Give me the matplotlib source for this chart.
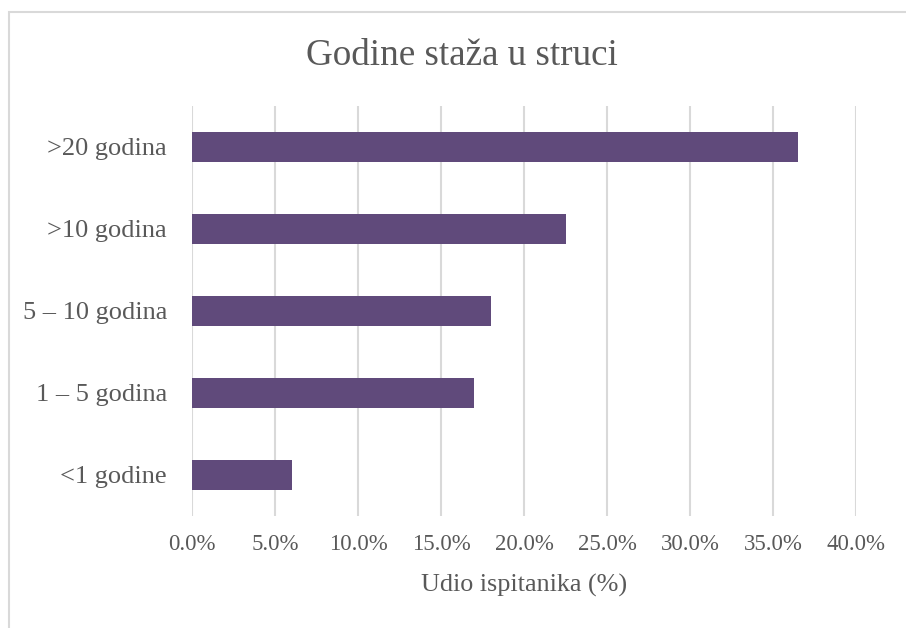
import matplotlib.pyplot as plt
import matplotlib.patches as mpatches
from matplotlib.ticker import FuncFormatter

# data (top to bottom as shown)
categories = [">20 godina", ">10 godina", "5 – 10 godina", "1 – 5 godina", "<1 godine"]
shares = [36.5, 22.5, 18.0, 17.0, 6.0]
xticks = [0, 5, 10, 15, 20, 25, 30, 35, 40]

BAR = "#604a7b"
TXT = "#595959"
GRID = "#d9d9d9"
W, H = 906, 628

plt.rcParams['font.family'] = ['Liberation Serif', 'DejaVu Serif']

fig = plt.figure(figsize=(W / 100, H / 100), dpi=100)
ax = fig.add_axes([192 / W, (H - 516) / H, (856 - 192) / W, 410 / H])

ax.barh(range(len(categories)), shares, height=0.366, color=BAR, zorder=3)
ax.set_ylim(len(categories) - 0.5, -0.5)
ax.set_xlim(0, 40)
ax.set_xticks(xticks)
ax.xaxis.set_major_formatter(FuncFormatter(lambda v, p: f"{v:.1f}%"))
ax.set_yticks(range(len(categories)))
ax.set_yticklabels(categories)

ax.grid(axis='x', color=GRID, linewidth=1.5, zorder=0)
for s in ax.spines.values():
    s.set_visible(False)
ax.tick_params(axis='x', length=0, pad=13, labelsize=16.5, labelcolor=TXT)
ax.tick_params(axis='y', length=0, pad=18, labelsize=19, labelcolor=TXT)

fig.text(524 / W, (H - 592) / H, "Udio ispitanika (%)", ha='center', va='baseline',
         fontsize=18.8, color=TXT)
fig.text(462 / W, (H - 65) / H, "Godine staža u struci", ha='center', va='baseline',
         fontsize=26.7, color=TXT)

# chart border (only left and top are inside the crop)
fig.patches.append(mpatches.Rectangle((9 / W, -0.2), 1.2, (H - 12) / H + 0.2,
                                      transform=fig.transFigure, fill=False,
                                      edgecolor=GRID, linewidth=1.5))

fig.savefig("out.png", dpi=100)
